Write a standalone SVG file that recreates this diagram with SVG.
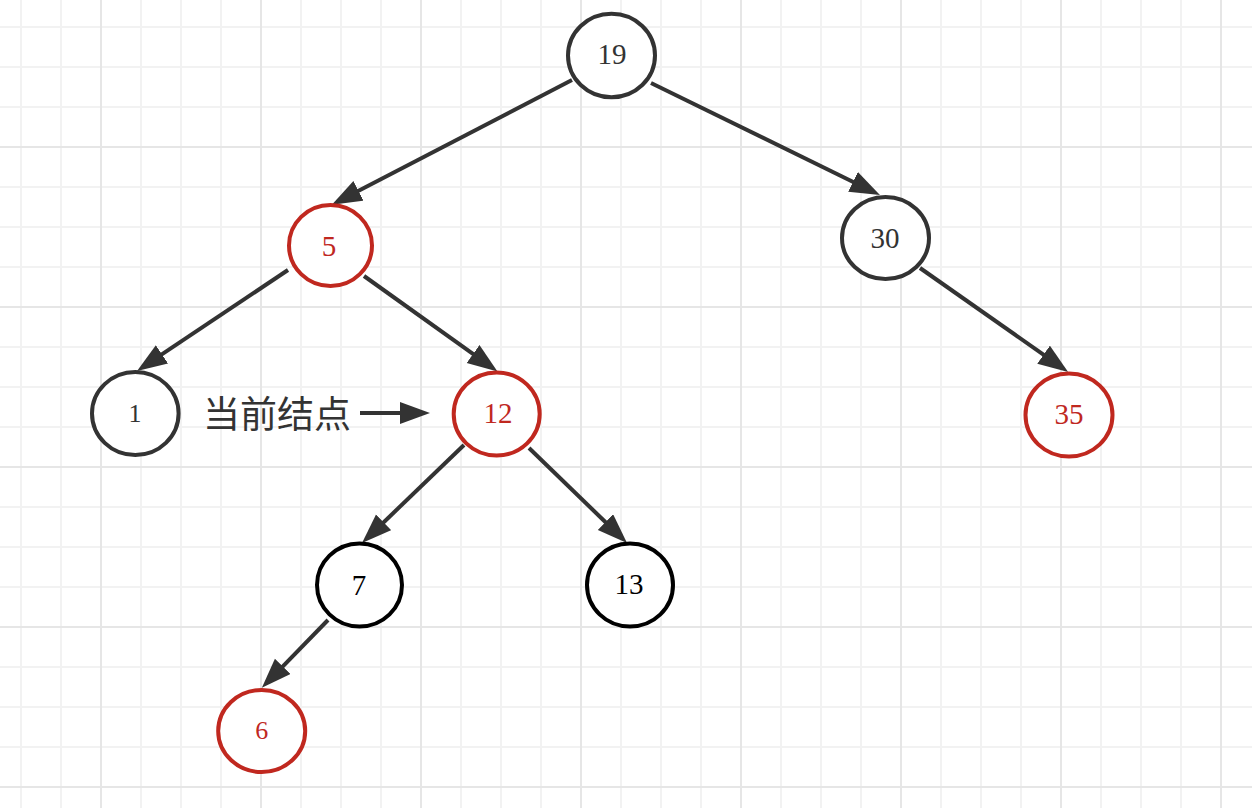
<svg xmlns="http://www.w3.org/2000/svg" width="1252" height="808" viewBox="0 0 1252 808">
<style>
.minor{fill:none;stroke:#f2f2f2;stroke-width:2}
.major{fill:none;stroke:#e6e6e6;stroke-width:2}
.node ellipse{fill:#ffffff;stroke-width:4}
.blk ellipse{stroke:#333333}
.blk text{fill:#333333}
.dark ellipse{stroke:#000000}
.dark text{fill:#000000}
.red ellipse{stroke:#c0281f}
.red text{fill:#c0281f}
.node text{font-family:"Liberation Serif","Times New Roman",serif;font-size:29px;text-anchor:middle}
.edge{fill:none;stroke:#333333;stroke-width:4;marker-end:url(#arr)}
.label{font-family:"Liberation Serif","Noto Sans CJK SC",serif;font-size:37px;fill:#333333}
</style>
<defs>
<marker id="arr" markerUnits="userSpaceOnUse" markerWidth="32" markerHeight="24" refX="2" refY="11" orient="auto" viewBox="0 0 32 24">
<path d="M0,0 L30,11 L0,22 Z" fill="#333333"/>
</marker>
</defs>
<rect width="1252" height="808" fill="#ffffff"/>
<g id="grid">
<path class="minor" d="M21 0v808m40-808v808m40-808v808m40-808v808m40-808v808m40-808v808m40-808v808m40-808v808m40-808v808m40-808v808m40-808v808m40-808v808m40-808v808m40-808v808m40-808v808m40-808v808m40-808v808m40-808v808m40-808v808m40-808v808m40-808v808m40-808v808m40-808v808m40-808v808m40-808v808m40-808v808m40-808v808m40-808v808m40-808v808m40-808v808m40-808v808"/>
<path class="minor" d="M0 27h1252m-1252 40h1252m-1252 40h1252m-1252 40h1252m-1252 40h1252m-1252 40h1252m-1252 40h1252m-1252 40h1252m-1252 40h1252m-1252 40h1252m-1252 40h1252m-1252 40h1252m-1252 40h1252m-1252 40h1252m-1252 40h1252m-1252 40h1252m-1252 40h1252m-1252 40h1252m-1252 40h1252m-1252 40h1252"/>
<path class="major" d="M101 0v808M261 0v808M421 0v808M581 0v808M741 0v808M901 0v808M1061 0v808M1221 0v808M0 147h1252M0 307h1252M0 467h1252M0 627h1252M0 787h1252"/>
</g>
<g id="connectors">
<line class="edge" x1="572" y1="80" x2="356.7" y2="191.8"/>
<line class="edge" x1="651" y1="83" x2="854.8" y2="182.7"/>
<line class="edge" x1="288" y1="270" x2="160.3" y2="355.4"/>
<line class="edge" x1="364" y1="276" x2="474.7" y2="355.1"/>
<line class="edge" x1="920" y1="268" x2="1045.2" y2="355.8"/>
<line class="edge" x1="464" y1="445" x2="382.2" y2="523.7"/>
<line class="edge" x1="529" y1="448" x2="606.9" y2="523.5"/>
<line class="edge" x1="328" y1="620" x2="281.4" y2="667.8"/>
<line class="edge" x1="360" y1="413" x2="402" y2="413"/>
</g>
<g id="node-19" class="node blk"><ellipse cx="611.5" cy="55.5" rx="43.5" ry="41.8"/><text x="612" y="64">19</text></g>
<g id="node-5" class="node red"><ellipse cx="330.5" cy="245.5" rx="41.5" ry="40.5"/><text x="329" y="255.5">5</text></g>
<g id="node-30" class="node blk"><ellipse cx="885.5" cy="238" rx="43.5" ry="41"/><text x="885" y="248">30</text></g>
<g id="node-1" class="node blk"><ellipse cx="135.3" cy="413.5" rx="43.3" ry="41.5"/><text x="135" y="422" style="font-size:26px">1</text></g>
<g id="node-12" class="node red"><ellipse cx="496.7" cy="414" rx="43" ry="41.5"/><text x="498" y="423">12</text></g>
<g id="node-35" class="node red"><ellipse cx="1069" cy="415" rx="43.5" ry="41.5"/><text x="1069" y="424">35</text></g>
<g id="node-7" class="node dark"><ellipse cx="359.5" cy="585" rx="42.5" ry="41.5"/><text x="359" y="595">7</text></g>
<g id="node-13" class="node dark"><ellipse cx="630" cy="585" rx="43" ry="41.5"/><text x="629" y="594">13</text></g>
<g id="node-6" class="node red"><ellipse cx="261.7" cy="731" rx="43.5" ry="41"/><text x="261.7" y="739" style="font-size:26px">6</text></g>
<g id="label-current"><text class="label" x="203" y="428">当前结点</text></g>
</svg>
